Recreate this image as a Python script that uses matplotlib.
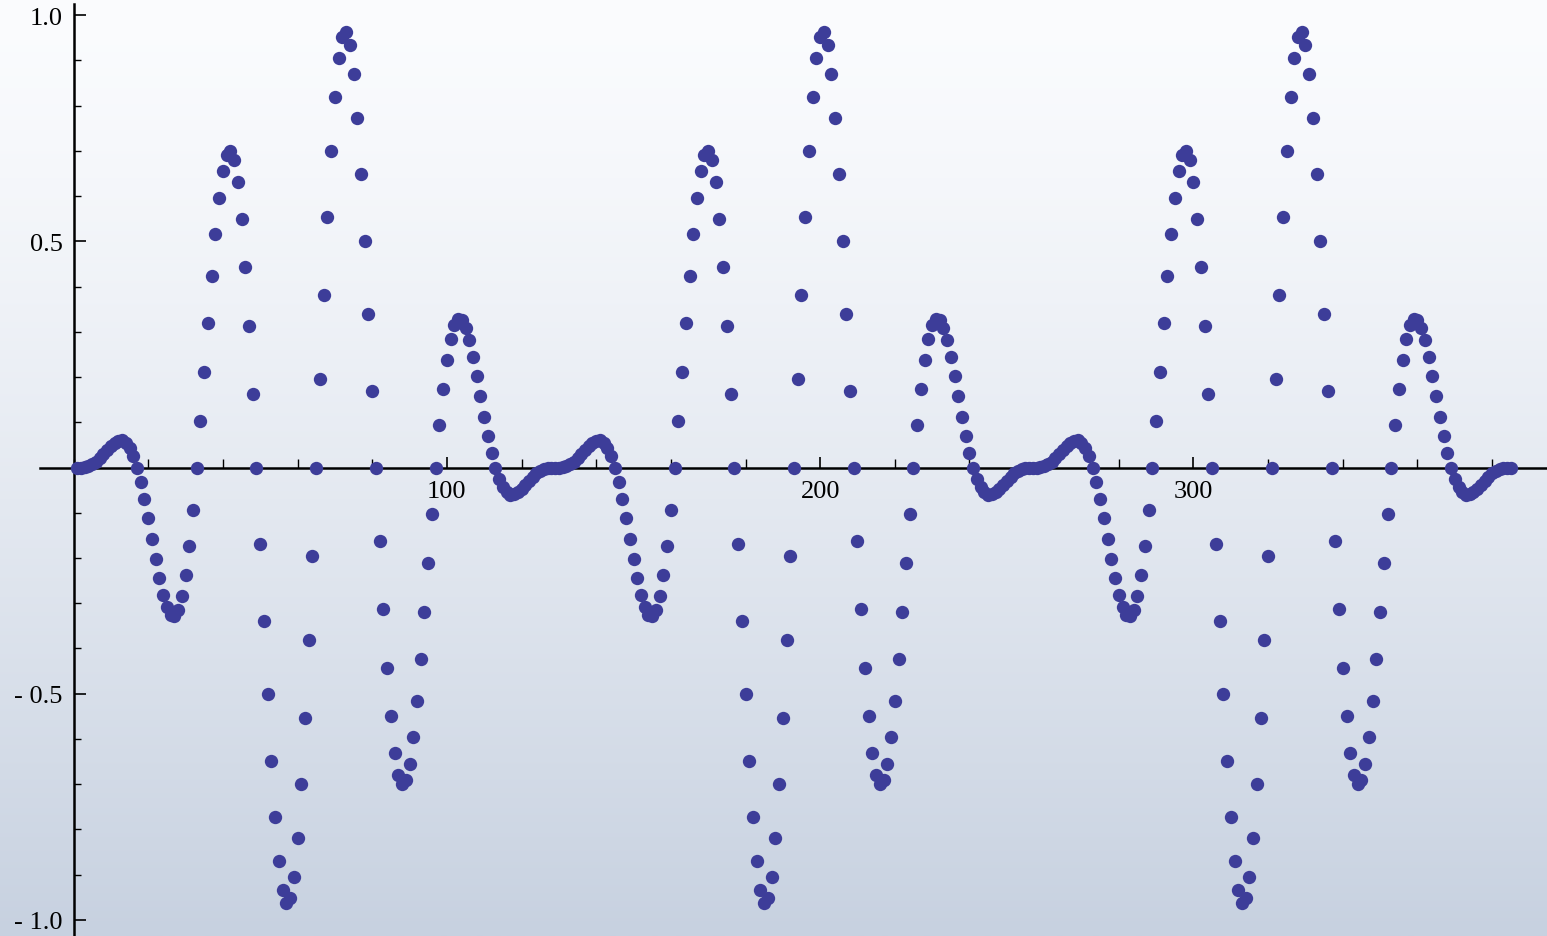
import numpy as np
import matplotlib
matplotlib.use("Agg")
import matplotlib.pyplot as plt
from matplotlib.ticker import FixedLocator, MultipleLocator, FixedFormatter

# one repeating period of the signal (128 samples)
period = [
    0.000, 0.000, 0.001, 0.003, 0.007, 0.013, 0.020, 0.029, 0.038, 0.047, 0.055, 0.059, 0.060, 0.055, 0.043, 0.025,
    0.000, -0.032, -0.070, -0.112, -0.157, -0.202, -0.244, -0.281, -0.309, -0.325, -0.328, -0.315, -0.285, -0.237, -0.173, -0.093,
    0.000, 0.102, 0.210, 0.319, 0.423, 0.517, 0.596, 0.656, 0.691, 0.700, 0.680, 0.630, 0.550, 0.443, 0.313, 0.163,
    0.000, -0.170, -0.339, -0.501, -0.648, -0.772, -0.869, -0.934, -0.962, -0.952, -0.904, -0.819, -0.700, -0.553, -0.382, -0.195,
    0.000, 0.195, 0.382, 0.553, 0.700, 0.819, 0.904, 0.952, 0.962, 0.934, 0.869, 0.772, 0.648, 0.501, 0.339, 0.170,
    0.000, -0.163, -0.313, -0.443, -0.550, -0.630, -0.680, -0.700, -0.691, -0.656, -0.596, -0.517, -0.423, -0.319, -0.210, -0.102,
    0.000, 0.093, 0.173, 0.237, 0.285, 0.315, 0.328, 0.325, 0.309, 0.281, 0.244, 0.202, 0.157, 0.112, 0.070, 0.032,
    0.000, -0.025, -0.043, -0.055, -0.060, -0.059, -0.055, -0.047, -0.038, -0.029, -0.020, -0.013, -0.007, -0.003, -0.001, 0.000,
]
values = period + period + period + [0.000]
x_values = list(range(1, len(values) + 1))

x_major = [100, 200, 300]
x_major_labels = ["100", "200", "300"]
y_major = [-1.0, -0.5, 0.5, 1.0]
y_major_labels = ["- 1.0", "- 0.5", "0.5", "1.0"]

W, H, DPI = 1547, 937, 100
fig = plt.figure(figsize=(W / DPI, H / DPI), dpi=DPI)

# background gradient
bg = fig.add_axes([0, 0, 1, 1], zorder=0)
t = np.linspace(0, 1, 512) ** 1.3
top = np.array([251, 252, 254]) / 255.0
bot = np.array([199, 209, 224]) / 255.0
grad = (top[None, :] * (1 - t[:, None]) + bot[None, :] * t[:, None])[:, None, :]
bg.imshow(grad, aspect="auto", extent=[0, 1, 0, 1], origin="upper")
bg.set_axis_off()

ax = fig.add_axes([0, 0, 1, 1], zorder=1)
ax.patch.set_alpha(0)
ax.set_xlim(-19.7, 394.7)
ax.set_ylim(-1.0354, 1.0354)

ax.plot(x_values, values, linestyle="none", marker="o", markersize=9.6,
        color="#3d3d99", markeredgewidth=0, zorder=3, clip_on=False)

for s in ["top", "right"]:
    ax.spines[s].set_visible(False)
ax.spines["left"].set_position(("data", 0))
ax.spines["bottom"].set_position(("data", 0))
ax.spines["left"].set_bounds(-1.04, 1.025)
ax.spines["bottom"].set_bounds(-9, 394.7)
for s in ["left", "bottom"]:
    ax.spines[s].set_linewidth(1.8)
    ax.spines[s].set_color("black")
    ax.spines[s].set_zorder(2)

ax.xaxis.set_major_locator(FixedLocator(x_major))
ax.xaxis.set_major_formatter(FixedFormatter(x_major_labels))
ax.xaxis.set_minor_locator(MultipleLocator(20))
ax.yaxis.set_major_locator(FixedLocator(y_major))
ax.yaxis.set_major_formatter(FixedFormatter(y_major_labels))
ax.yaxis.set_minor_locator(MultipleLocator(0.1))

ax.tick_params(axis="x", which="major", direction="in", length=8, width=1.2, pad=9)
ax.tick_params(axis="x", which="minor", direction="in", length=6.5, width=1.0)
ax.tick_params(axis="y", which="major", direction="in", length=8.5, width=1.2, pad=8)
ax.tick_params(axis="y", which="minor", direction="in", length=5, width=1.0)

for lab in ax.get_xticklabels() + ax.get_yticklabels():
    lab.set_fontfamily(["Liberation Serif", "DejaVu Serif"])
    lab.set_fontsize(19)

fig.savefig("out.png", dpi=DPI)
